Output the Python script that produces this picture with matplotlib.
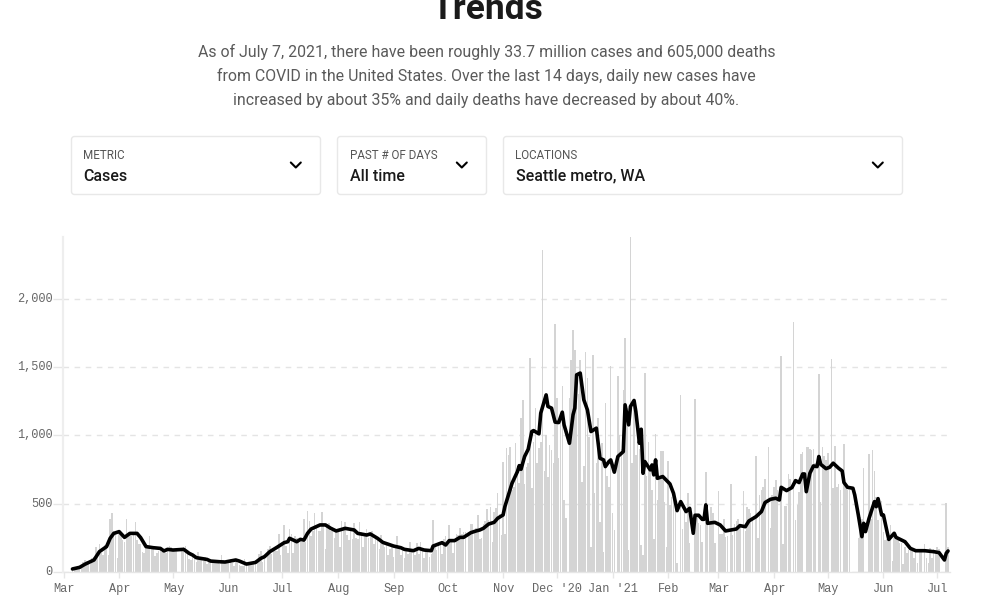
import pandas as pd
import matplotlib
matplotlib.use("Agg")
import matplotlib.pyplot as plt
from matplotlib.patches import FancyBboxPatch
from matplotlib.transforms import ScaledTranslation

# daily new cases, one list per month (zero = no report that day)
cases_mar_20 = [0, 0, 0, 0, 0, 20, 15, 30, 35, 30, 45, 70, 85, 80, 60, 60, 100, 110, 180, 120, 205,
                140, 120, 195, 205, 120, 390, 430, 295, 285, 100]
cases_apr_20 = [290, 270, 230, 215, 390, 270, 285, 260, 270, 365, 230, 205, 200, 145, 140, 175, 190, 265,
                180, 170, 115, 135, 155, 170, 145, 140, 135, 150, 190, 180]
cases_may_20 = [165, 150, 160, 0, 0, 150, 180, 190, 140, 90, 85, 130, 120, 70, 145, 90, 100, 75, 105, 60, 70,
                90, 85, 80, 75, 70, 60, 125, 85, 70, 65]
cases_jun_20 = [75, 95, 65, 40, 70, 65, 50, 40, 45, 95, 65, 60, 50, 70, 60, 85, 90, 130, 150, 70, 110,
                0, 170, 190, 130, 165, 150, 155, 280, 120]
cases_jul_20 = [200, 340, 190, 140, 310, 280, 135, 265, 250, 230, 225, 220, 385, 220, 445, 370, 260, 300, 428,
                340, 300, 300, 435, 350, 170, 350, 360, 300, 330, 250, 310]
cases_aug_20 = [300, 180, 372, 330, 367, 270, 230, 320, 240, 360, 250, 240, 367, 290, 180, 280, 311, 250, 260,
                300, 200, 240, 230, 170, 270, 200, 180, 200, 120, 170, 190]
cases_sep_20 = [110, 180, 262, 170, 120, 170, 100, 150, 130, 220, 170, 140, 120, 213, 130, 215, 150, 100, 160,
                150, 110, 130, 380, 180, 160, 220, 200, 130, 240, 260]
cases_oct_20 = [200, 343, 230, 140, 240, 280, 270, 318, 280, 290, 290, 0, 290, 348, 350, 300, 320, 416, 240, 250,
                350, 370, 458, 380, 472, 220, 440, 465, 575, 420, 270]
cases_nov_20 = [808, 280, 906, 857, 918, 600, 624, 942, 740, 649, 1126, 1260, 640, 771, 800, 1567, 612, 950, 1200,
                800, 906, 950, 2357, 740, 1000, 698, 930, 893, 795, 1819]
cases_dec_20 = [1273, 832, 1150, 1359, 526, 392, 0, 1273, 1555, 1775, 1628, 1432, 1300, 1555, 661, 776, 1611, 1420,
                991, 184, 1586, 575, 800, 1126, 367, 942, 147, 1241, 700, 624, 1510]
cases_jan_21 = [428, 306, 0, 1439, 1000, 900, 1334, 1713, 1200, 159, 2460, 796, 1236, 857, 1000, 900, 196, 122, 1457,
                700, 950, 760, 600, 237, 1011, 526, 698, 886, 886, 514, 184]
cases_feb_21 = [813, 490, 550, 575, 500, 66, 0, 1297, 313, 490, 367, 575, 208, 0, 0, 1268, 420, 360, 340, 215, 0,
                730, 360, 350, 477, 428, 208, 0]
cases_mar_21 = [595, 277, 280, 384, 257, 260, 0, 644, 270, 350, 370, 384, 340, 0, 592, 300, 477, 460, 430, 400, 0,
                845, 245, 563, 600, 620, 678, 0, 918, 318, 560]
cases_apr_21 = [624, 673, 600, 0, 1584, 203, 480, 482, 717, 680, 0, 1829, 379, 490, 587, 864, 880, 0, 918, 918, 900,
                890, 898, 800, 0, 1449, 514, 918, 850, 820]
cases_may_21 = [869, 0, 1562, 612, 923, 620, 640, 600, 0, 938, 620, 600, 600, 0, 0, 0, 0, 245, 399, 390, 759, 0, 0,
                864, 390, 893, 742, 550, 379, 0, 521]
cases_jun_21 = [294, 230, 240, 240, 343, 78, 294, 245, 245, 210, 210, 56, 180, 135, 160, 160, 150, 100, 150, 61,
                160, 150, 0, 203, 100, 66, 171, 100, 170, 160]
cases_jul_21 = [184, 165, 0, 0, 0, 507, 179]

# 7 day average, read as (days since Mar 1 2020, value)
avg_days_a = [5, 9, 12, 17, 20, 24, 26, 28, 31, 34, 37, 41, 43, 46, 50, 54, 56, 58, 61, 67, 70, 72, 74, 80, 82, 87,
              90, 96, 98, 102, 107, 110, 112, 115, 119, 123, 125, 126, 130, 132, 134, 136, 138, 143, 146, 149]
avg_vals_a = [20, 32, 55, 86, 147, 184, 245, 281, 294, 252, 281, 281, 250, 184, 176, 171, 152, 164, 159, 164, 135,
              122, 103, 90, 78, 73, 71, 86, 78, 56, 68, 98, 110, 147, 179, 213, 220, 245, 220, 237, 232, 281, 313,
              343, 343, 318]
avg_days_b = [152, 157, 162, 164, 169, 171, 175, 178, 184, 188, 190, 195, 198, 201, 205, 206, 211, 213, 215, 218,
              221, 223, 227, 230, 232, 234, 237, 240, 242, 245, 246, 248, 250, 253, 254, 255, 257, 259, 261, 262,
              265, 266, 269, 270, 272, 274, 276, 278, 279, 282, 284, 285, 286, 288, 290, 292, 294, 297, 299, 301,
              302, 304, 305, 307, 309, 312, 313, 315, 316, 318, 319, 321, 322, 323, 324, 327, 328, 329, 330, 331]
avg_vals_b = [299, 318, 306, 281, 269, 277, 245, 215, 188, 176, 164, 154, 171, 159, 154, 188, 213, 196, 228, 228,
              252, 252, 286, 299, 306, 318, 350, 362, 392, 416, 477, 563, 649, 734, 778, 751, 845, 898, 1028, 1035,
              1011, 1163, 1297, 1212, 1200, 1097, 1094, 1170, 1077, 942, 1151, 1200, 1444, 1457, 1261, 1187, 1028,
              1053, 832, 820, 771, 808, 820, 730, 845, 881, 1224, 1077, 1212, 1256, 1175, 942, 1045, 722, 808, 747,
              783, 710, 820, 685]
avg_days_c = [334, 338, 340, 342, 344, 347, 349, 351, 352, 354, 356, 357, 358, 359, 363, 366, 369, 375, 377, 380,
              382, 386, 389, 391, 394, 397, 399, 400, 403, 406, 408, 410, 412, 413, 414, 416, 418, 420, 421, 422,
              425, 427, 429, 432, 434, 435, 437, 440, 441, 443, 445, 446, 447, 449, 452, 453, 454, 456, 457, 459,
              460, 463, 464, 469, 472, 475, 480, 485, 488, 491, 492, 493]
avg_vals_c = [698, 644, 575, 448, 514, 441, 465, 282, 414, 414, 384, 384, 490, 355, 362, 343, 299, 313, 338, 330,
              372, 404, 441, 507, 531, 539, 526, 619, 595, 617, 668, 654, 717, 717, 587, 722, 776, 771, 845, 788,
              756, 766, 796, 759, 739, 654, 619, 612, 563, 416, 257, 355, 294, 392, 514, 477, 536, 416, 416, 294,
              237, 282, 252, 220, 171, 154, 154, 147, 140, 86, 135, 152]

tick_months = ["Mar", "Apr", "May", "Jun", "Jul", "Aug", "Sep", "Oct", "Nov", "Dec '20", "Jan '21",
               "Feb", "Mar", "Apr", "May", "Jun", "Jul"]
y_ticks = [0, 500, 1000, 1500, 2000]

intro_lines = [
    "As of July 7, 2021, there have been roughly 33.7 million cases and 605,000 deaths",
    "from COVID in the United States. Over the last 14 days, daily new cases have",
    "increased by about 35% and daily deaths have decreased by about 40%.",
]
dropdown_labels = ["METRIC", "PAST # OF DAYS", "LOCATIONS"]
dropdown_values = ["Cases", "All time", "Seattle metro, WA"]

W, H = 986, 614
START = pd.Timestamp("2020-03-01")

daily = (cases_mar_20 + cases_apr_20 + cases_may_20 + cases_jun_20 + cases_jul_20 + cases_aug_20 + cases_sep_20
         + cases_oct_20 + cases_nov_20 + cases_dec_20 + cases_jan_21 + cases_feb_21 + cases_mar_21 + cases_apr_21
         + cases_may_21 + cases_jun_21 + cases_jul_21)
dates = pd.date_range(START, periods=len(daily), freq="D")
avg_dates = START + pd.to_timedelta(avg_days_a + avg_days_b + avg_days_c, unit="D")
avg_vals = avg_vals_a + avg_vals_b + avg_vals_c

plt.rcParams["font.family"] = ["Roboto", "DejaVu Sans"]
fig = plt.figure(figsize=(W / 100, H / 100), dpi=100)

# page furniture, in pixel coordinates
ui = fig.add_axes([0, 0, 1, 1])
ui.set_xlim(0, W)
ui.set_ylim(H, 0)
ui.axis("off")

ui.text(487, 19, "Trends", ha="center", va="baseline", fontsize=25.4, fontweight="bold", color="#1a1a1a")
for y, line in zip([57, 81, 105], intro_lines):
    ui.text(486.3, y, line, ha="center", va="baseline", fontsize=11.44, color="#5a5a5a")

boxes = [(71.5, 249), (337.5, 149), (503.5, 399)]
for (bx, bw), lab, val in zip(boxes, dropdown_labels, dropdown_values):
    ui.add_patch(FancyBboxPatch((bx + 3, 139.5), bw - 6, 52, boxstyle="round,pad=3,rounding_size=3",
                                fc="white", ec="#e8e8e8", lw=1))
    ui.text(bx + 12, 159, lab, ha="left", va="baseline", fontsize=8.4, color="#555555")
    ui.text(bx + 12, 180.8, val, ha="left", va="baseline", fontsize=11.5, color="#1a1a1a", fontweight="medium")
    cx = bx + bw - 24.7
    ui.plot([cx - 5, cx, cx + 5], [162.5, 167.5, 162.5], color="black", lw=1.5, solid_capstyle="round")

# chart
left, right, top, bottom = 63.5, 950, 237, 571.7
ax = fig.add_axes([left / W, 1 - bottom / H, (right - left) / W, (bottom - top) / H])
ax.patch.set_alpha(0)
ax.bar(dates, daily, width=0.85, color="#d4d4d4", linewidth=0, zorder=2)
ax.plot(avg_dates, avg_vals, color="black", lw=2.6, zorder=4, solid_joinstyle="round", solid_capstyle="round")

ax.set_xlim(START, START + pd.Timedelta(days=494.1))
ax.set_ylim(0, 2455)
ax.set_yticks(y_ticks)
ax.set_yticklabels([f"{v:,}" for v in y_ticks])
ax.set_xticks(pd.date_range("2020-03-01", "2021-07-01", freq="MS"))
ax.set_xticklabels(tick_months)
ax.tick_params(axis="x", length=4, width=1, color="#e6e6e6", pad=4.2)
ax.tick_params(axis="y", length=7, width=1, color="#e6e6e6", pad=0.7)
for lab in ax.get_xticklabels() + ax.get_yticklabels():
    lab.set_fontfamily(["Liberation Mono", "DejaVu Sans Mono"])
    lab.set_fontsize(8.6)
    lab.set_color("#666666")
# y labels sit a little above their gridlines, x labels a touch to the right of their ticks
for lab in ax.get_yticklabels():
    lab.set_transform(lab.get_transform() + ScaledTranslation(0, 1.5 / 100, fig.dpi_scale_trans))
for lab in ax.get_xticklabels():
    lab.set_transform(lab.get_transform() + ScaledTranslation(0.5 / 100, 0, fig.dpi_scale_trans))

ax.grid(axis="y", color="#e4e4e4", lw=1, dashes=(4, 4), zorder=3)
for side in ["top", "right"]:
    ax.spines[side].set_visible(False)
ax.spines["left"].set_color("#eeeeee")
ax.spines["left"].set_linewidth(1.6)
ax.spines["bottom"].set_color("#e6e6e6")
ax.spines["bottom"].set_linewidth(1)

fig.savefig("out.png", dpi=100)
